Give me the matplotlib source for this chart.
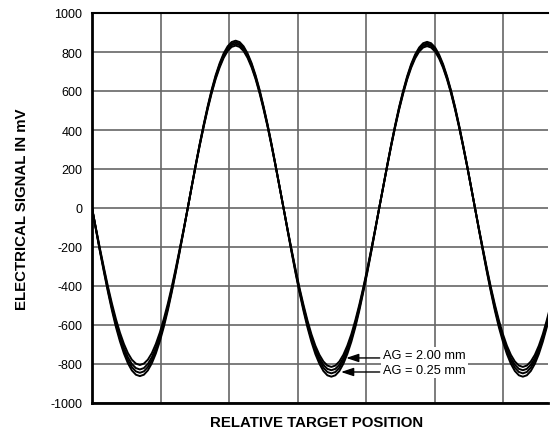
import matplotlib
matplotlib.use("Agg")
import matplotlib.pyplot as plt

plt.rcParams["font.family"] = ["Liberation Sans", "DejaVu Sans"]
plt.rcParams["axes.unicode_minus"] = False

# relative target position (one unit = one grid division)
position = [0.000, 0.058, 0.116, 0.175, 0.233, 0.291, 0.349, 0.408, 0.466, 0.524,
            0.582, 0.641, 0.699, 0.757, 0.815, 0.874, 0.932, 0.990, 1.048, 1.107,
            1.165, 1.223, 1.281, 1.340, 1.398, 1.456, 1.514, 1.572, 1.631, 1.689,
            1.747, 1.805, 1.864, 1.922, 1.980, 2.038, 2.097, 2.155, 2.213, 2.271,
            2.330, 2.388, 2.446, 2.504, 2.563, 2.621, 2.679, 2.737, 2.796, 2.854,
            2.912, 2.970, 3.028, 3.087, 3.145, 3.203, 3.261, 3.320, 3.378, 3.436,
            3.494, 3.553, 3.611, 3.669, 3.727, 3.786, 3.844, 3.902, 3.960, 4.019,
            4.077, 4.135, 4.193, 4.252, 4.310, 4.368, 4.426, 4.484, 4.543, 4.601,
            4.659, 4.717, 4.776, 4.834, 4.892, 4.950, 5.009, 5.067, 5.125, 5.183,
            5.242, 5.300, 5.358, 5.416, 5.475, 5.533, 5.591, 5.649, 5.708, 5.766,
            5.824, 5.882, 5.940, 5.999, 6.057, 6.115, 6.173, 6.232, 6.290, 6.348,
            6.406, 6.465, 6.523, 6.581, 6.639, 6.698, 6.756]

# signal in mV for each air gap
sig_025 = [0,
           -112, -223, -330, -431, -525, -610, -684, -746, -796, -833, -855, -862,
           -855, -833, -796, -746, -684, -610, -525, -431, -330, -223, -112,
           0,
           112, 222, 328, 429, 522, 607, 681, 743, 793, 829, 851, 858,
           851, 829, 793, 743, 681, 607, 522, 429, 328, 222, 112,
           0,
           -113, -224, -331, -432, -527, -612, -686, -749, -799, -836, -858, -865,
           -858, -836, -799, -749, -686, -612, -527, -432, -331, -224, -113,
           0,
           111, 221, 326, 426, 519, 602, 676, 738, 787, 823, 845, 852,
           845, 823, 787, 738, 676, 602, 519, 426, 326, 221, 111,
           0,
           -113, -224, -331, -432, -527, -612, -686, -749, -799, -836, -858, -865,
           -858, -836, -799, -749, -686, -612, -527, -432]
sig_075 = [0,
           -110, -219, -323, -423, -514, -597, -670, -732, -781, -816, -838, -845,
           -838, -816, -781, -732, -670, -597, -514, -423, -323, -219, -110,
           0,
           111, 220, 325, 425, 517, 601, 674, 736, 785, 821, 843, 850,
           843, 821, 785, 736, 674, 601, 517, 425, 325, 220, 111,
           0,
           -111, -219, -325, -424, -516, -600, -673, -734, -783, -819, -841, -848,
           -841, -819, -783, -734, -673, -600, -516, -424, -325, -219, -111,
           0,
           110, 218, 323, 422, 514, 597, 670, 731, 780, 815, 837, 844,
           837, 815, 780, 731, 670, 597, 514, 422, 323, 218, 110,
           0,
           -111, -219, -325, -424, -516, -600, -673, -734, -783, -819, -841, -848,
           -841, -819, -783, -734, -673, -600, -516, -424]
sig_125 = [0,
           -108, -214, -317, -414, -504, -585, -657, -717, -765, -800, -821, -828,
           -821, -800, -765, -717, -657, -585, -504, -414, -317, -214, -108,
           0,
           110, 218, 322, 421, 513, 595, 668, 729, 778, 813, 835, 842,
           835, 813, 778, 729, 668, 595, 513, 421, 322, 218, 110,
           0,
           -109, -215, -318, -416, -507, -588, -660, -721, -769, -804, -825, -832,
           -825, -804, -769, -721, -660, -588, -507, -416, -318, -215, -109,
           0,
           109, 217, 321, 419, 510, 593, 665, 726, 774, 809, 831, 838,
           831, 809, 774, 726, 665, 593, 510, 419, 321, 217, 109,
           0,
           -109, -215, -318, -416, -507, -588, -660, -721, -769, -804, -825, -832,
           -825, -804, -769, -721, -660, -588, -507, -416]
sig_200 = [0,
           -105, -208, -308, -403, -490, -569, -639, -697, -744, -778, -798, -805,
           -798, -778, -744, -697, -639, -569, -490, -403, -308, -208, -105,
           0,
           109, 216, 319, 417, 507, 589, 661, 721, 770, 805, 826, 833,
           826, 805, 770, 721, 661, 589, 507, 417, 319, 216, 109,
           0,
           -106, -211, -312, -408, -496, -576, -647, -706, -753, -787, -808, -815,
           -808, -787, -753, -706, -647, -576, -496, -408, -312, -211, -106,
           0,
           108, 215, 318, 415, 505, 587, 659, 719, 767, 802, 823, 830,
           823, 802, 767, 719, 659, 587, 505, 415, 318, 215, 108,
           0,
           -106, -211, -312, -408, -496, -576, -647, -706, -753, -787, -808, -815,
           -808, -787, -753, -706, -647, -576, -496, -408]

curves = [sig_025, sig_075, sig_125, sig_200]
y_ticks = list(range(-1000, 1001, 200))
x_grid = [1, 2, 3, 4, 5, 6]

fig = plt.figure(figsize=(5.5, 4.31), dpi=100)
ax = fig.add_axes([92 / 550, 27 / 431, 456 / 550, 390 / 431])

for sig in curves:
    ax.plot(position, sig, color="black", lw=1.4, zorder=3)

ax.set_xlim(0, 456 / 68.5)
ax.set_ylim(-1000, 1000)
ax.set_yticks(y_ticks)
ax.set_xticks(x_grid)
ax.set_xticklabels([])
ax.tick_params(axis="both", length=0, labelsize=9, pad=7)
ax.grid(True, color="0.4", lw=1.2)
ax.set_axisbelow(True)

ax.spines["right"].set_visible(False)
ax.spines["left"].set_linewidth(2)
ax.spines["bottom"].set_linewidth(2)
ax.spines["top"].set_linewidth(1.5)

ax.set_xlabel("RELATIVE TARGET POSITION", fontsize=10.8, fontweight="bold")
ax.xaxis.set_label_coords(0.493, -0.031)
ax.set_ylabel("ELECTRICAL SIGNAL IN mV", fontsize=10.8, fontweight="bold")
ax.yaxis.set_label_coords(-0.138, 0.5)

box = dict(facecolor="white", edgecolor="none", pad=1.5)
ax.text(4.25, -752, "AG = 2.00 mm", fontsize=9.2, va="center", ha="left",
        bbox=box, zorder=4)
ax.text(4.25, -830, "AG = 0.25 mm", fontsize=9.2, va="center", ha="left",
        bbox=box, zorder=4)
arrow = dict(arrowstyle="-|>,head_length=0.75,head_width=0.25",
             color="black", lw=1, shrinkA=0, shrinkB=0)
ax.annotate("", xy=(3.71, -769), xytext=(4.2, -769), arrowprops=arrow, zorder=5)
ax.annotate("", xy=(3.635, -841), xytext=(4.2, -841), arrowprops=arrow, zorder=5)

fig.savefig("out.png", dpi=100)
